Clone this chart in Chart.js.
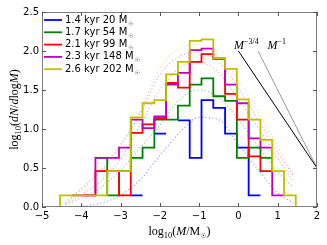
<!DOCTYPE html>
<html>
<head>
<meta charset="utf-8">
<script src="https://cdn.jsdelivr.net/npm/chart.js@4.4.1/dist/chart.umd.min.js"></script>
<style>
  html, body { margin: 0; padding: 0; background: #fff; }
  #wrap { width: 327px; height: 245px; }
</style>
</head>
<body>
<div id="wrap"><canvas id="chart" width="327" height="245"></canvas></div>
<script>
// histogram bin edges, log10(M/Msun)
const edges = [-4.54, -4.24, -3.94, -3.64, -3.34, -3.04, -2.74, -2.44, -2.14, -1.84, -1.54,
               -1.24, -0.94, -0.64, -0.34, -0.04, 0.26, 0.56, 0.86, 1.16, 1.46];

// log10(dN/dlogM) per bin, null = empty bin
const hist14 = [null, null, null, null, null, null, 0.15, null, 0.94, null, 1.11, 0.63, 1.37, 1.27, 0.94, 0.76, 0.15, null, null, null];
const hist17 = [null, null, null, 0.63, 0.15, 0.46, 0.63, 0.76, 1.12, 1.12, 1.30, 1.57, 1.65, 1.42, 1.36, 0.63, 0.76, 0.63, null, null];
const hist21 = [null, null, 0.15, 0.46, 0.46, 0.15, 0.95, 1.06, 1.14, 1.59, 1.53, 1.86, 1.96, 1.90, 1.45, 1.12, 0.65, 0.46, null, null];
const hist23 = [null, 0.15, 0.15, 0.63, 0.63, 0.76, 1.12, 1.01, 1.16, 1.57, 1.72, 2.01, 2.03, 1.91, 1.57, 1.33, 0.88, 0.76, 0.15, null];
const hist26 = [0.15, 0.15, 0.15, 0.15, 0.46, 0.46, 1.15, 1.33, 1.37, 1.70, 1.86, 2.13, 2.15, 1.91, 1.77, 1.38, 1.12, 0.86, 0.46, 0.15];

// dotted fits, read at these masses
const fitX = [-4.4, -4.0, -3.5, -3.0, -2.5, -2.0, -1.5, -1.0, -0.5, 0.0, 0.5, 1.0, 1.4];
const fit14 = [0.0, 0.01, 0.05, 0.15, 0.35, 0.66, 0.95, 1.15, 1.12, 0.80, 0.48, 0.18, 0.05];
const fit17 = [0.03, 0.12, 0.25, 0.47, 0.76, 1.05, 1.38, 1.50, 1.40, 1.12, 0.78, 0.45, 0.25];
const fit21 = [0.04, 0.16, 0.33, 0.62, 1.05, 1.50, 1.78, 1.86, 1.72, 1.38, 1.02, 0.62, 0.33];
const fit23 = [0.06, 0.24, 0.47, 0.80, 1.20, 1.70, 1.93, 1.98, 1.86, 1.52, 1.12, 0.70, 0.40];
const fit26 = [0.05, 0.22, 0.45, 0.78, 1.22, 1.78, 2.03, 2.08, 1.95, 1.62, 1.22, 0.78, 0.40];

const legendLabels = ['1.4 kyr 20 M', '1.7 kyr 54 M', '2.1 kyr 99 M', '2.3 kyr 148 M', '2.6 kyr 202 M'];
const colors = ['#0000ff', '#008000', '#ff0000', '#bf00bf', '#bfbf00'];
const fitColors = ['rgba(0,0,255,0.45)', 'rgba(0,128,0,0.45)', 'rgba(255,0,0,0.4)', 'rgba(191,0,191,0.4)', 'rgba(191,191,0,0.45)'];

// reference slopes
const slope34X = [0.0, 2.0];
const slope34Y = [2.0, 0.5];
const slope1X = [0.5, 2.0];
const slope1Y = [2.0, 0.5];

const hists = [hist14, hist17, hist21, hist23, hist26];
const fits = [fit14, fit17, fit21, fit23, fit26];
const closedEnds = [false, false, false, false, true];

function stepPoints(vals, closed) {
    const pts = [];
    let open = false;
    vals.forEach((v, i) => {
        if (v === null) {
            if (open) pts.push({x: edges[i], y: null});
            open = false;
            return;
        }
        pts.push({x: edges[i], y: v}, {x: edges[i + 1], y: v});
        open = true;
    });
    if (closed) {
        pts.unshift({x: pts[0].x, y: 0});
        pts.push({x: pts[pts.length - 1].x, y: 0});
    }
    return pts;
}

const datasets = [];
hists.forEach((h, i) => {
    datasets.push({
        label: legendLabels[i],
        data: stepPoints(h, closedEnds[i]),
        borderColor: colors[i],
        borderWidth: 1.8,
        pointRadius: 0,
        tension: 0,
        spanGaps: false,
        order: 4 - i
    });
});
fits.forEach((f, i) => {
    datasets.push({
        label: 'fit',
        data: fitX.map((x, j) => ({x: x, y: f[j]})),
        borderColor: fitColors[i],
        borderWidth: 1.2,
        borderDash: [1, 2.5],
        pointRadius: 0,
        cubicInterpolationMode: 'monotone',
        order: 10
    });
});
datasets.push({
    label: 'slope34',
    data: slope34X.map((x, j) => ({x: x, y: slope34Y[j]})),
    borderColor: '#000000', borderWidth: 1, pointRadius: 0, order: 9
});
datasets.push({
    label: 'slope1',
    data: slope1X.map((x, j) => ({x: x, y: slope1Y[j]})),
    borderColor: '#999999', borderWidth: 1, pointRadius: 0, order: 9
});

// draw a run of text pieces: [text, font, dy]
function drawRuns(ctx, runs, x, y) {
    let cx = x;
    runs.forEach(r => {
        ctx.font = r[1];
        ctx.fillText(r[0], cx, y + (r[2] || 0));
        cx += ctx.measureText(r[0]).width;
    });
    return cx - x;
}
function runsWidth(ctx, runs) {
    let w = 0;
    runs.forEach(r => { ctx.font = r[1]; w += ctx.measureText(r[0]).width; });
    return w;
}

const serif = "'Liberation Serif', serif";
const decor = {
    id: 'decor',
    afterDatasetsDraw(chart) {
        const {ctx, chartArea: a, scales: {x, y}} = chart;
        ctx.save();
        // frame and inward ticks
        ctx.strokeStyle = '#7f7f7f';
        ctx.lineWidth = 1;
        ctx.strokeRect(a.left + 0.5, a.top + 0.5, a.right - a.left - 1, a.bottom - a.top - 1);
        ctx.strokeStyle = '#555';
        ctx.beginPath();
        x.ticks.forEach(t => {
            const px = Math.round(x.getPixelForValue(t.value)) + 0.5;
            ctx.moveTo(px, a.bottom); ctx.lineTo(px, a.bottom - 4);
            ctx.moveTo(px, a.top); ctx.lineTo(px, a.top + 4);
        });
        y.ticks.forEach(t => {
            const py = Math.round(y.getPixelForValue(t.value)) + 0.5;
            ctx.moveTo(a.left, py); ctx.lineTo(a.left + 4, py);
            ctx.moveTo(a.right, py); ctx.lineTo(a.right - 4, py);
        });
        ctx.stroke();

        // slope labels
        ctx.fillStyle = '#000';
        ctx.textBaseline = 'alphabetic';
        const it = 'italic 12px ' + serif;
        const sup = '8px ' + serif;
        drawRuns(ctx, [['M', it], ['\u22123/4', sup, -5]], x.getPixelForValue(-0.11), y.getPixelForValue(2.02));
        drawRuns(ctx, [['M', it], ['\u22121', sup, -5]], x.getPixelForValue(0.74), y.getPixelForValue(2.02));

        // legend
        const font = "10px 'DejaVu Sans', sans-serif";
        chart.data.datasets.slice(0, 5).forEach((ds, i) => {
            const rowY = a.top + 8 + i * 12.3;
            ctx.strokeStyle = ds.borderColor;
            ctx.lineWidth = 1.8;
            ctx.beginPath();
            ctx.moveTo(a.left + 2, rowY); ctx.lineTo(a.left + 20, rowY);
            ctx.stroke();
            ctx.fillStyle = '#000';
            ctx.textBaseline = 'middle';
            const w = drawRuns(ctx, [[ds.label, font]], a.left + 23, rowY);
            ctx.font = "6px 'DejaVu Sans', sans-serif";
            ctx.fillText('\u2609', a.left + 23 + w + 1, rowY + 4);
        });

        // axis titles
        ctx.textBaseline = 'alphabetic';
        const rm = '12px ' + serif, ri = 'italic 12px ' + serif, sub = '8.5px ' + serif;
        const xr = [['log', rm], ['10', sub, 3], ['(', rm], ['M', ri], ['/M', rm], ['\u2609', "7px 'DejaVu Sans'", 3], [')', rm]];
        const xw = runsWidth(ctx, xr);
        drawRuns(ctx, xr, (a.left + a.right) / 2 - xw / 2, 235);
        const yr = [['log', rm], ['10', sub, 3], ['(', rm], ['dN', ri], ['/', rm], ['d', ri], ['log', rm], ['M', ri], [')', rm]];
        const yw = runsWidth(ctx, yr);
        ctx.translate(18, (a.top + a.bottom) / 2);
        ctx.rotate(-Math.PI / 2);
        drawRuns(ctx, yr, -yw / 2, 0);
        ctx.restore();
    }
};

const fmt = v => (v < 0 ? '\u2212' + Math.abs(v) : String(v));

new Chart(document.getElementById('chart'), {
    type: 'line',
    data: { datasets: datasets },
    options: {
        responsive: false,
        animation: false,
        events: [],
        layout: { padding: { top: 12, right: 10, left: 0, bottom: 0 } },
        plugins: { legend: { display: false }, tooltip: { enabled: false } },
        scales: {
            x: {
                type: 'linear', min: -5, max: 2,
                afterFit: s => { s.height = 38; },
                grid: { display: false, drawTicks: false },
                border: { display: false },
                ticks: { stepSize: 1, padding: 3, maxRotation: 0, color: '#000',
                         font: { family: "'DejaVu Sans'", size: 10 }, callback: v => fmt(v) }
            },
            y: {
                min: 0, max: 2.5,
                afterFit: s => { s.width = 42; },
                grid: { display: false, drawTicks: false },
                border: { display: false },
                ticks: { stepSize: 0.5, padding: 3, color: '#000',
                         font: { family: "'DejaVu Sans'", size: 10 }, callback: v => v.toFixed(1) }
            }
        }
    },
    plugins: [decor]
});
</script>
</body>
</html>
